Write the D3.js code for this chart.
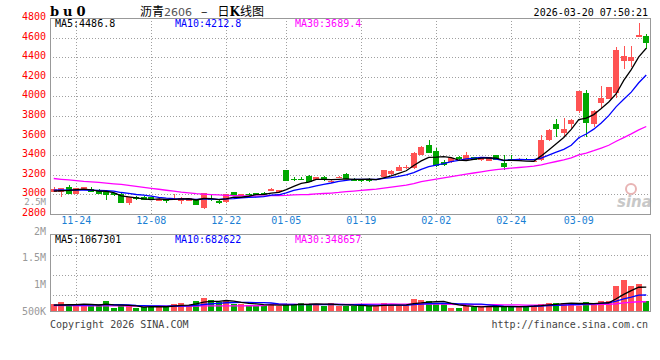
<!DOCTYPE html>
<html>
<head>
<meta charset="utf-8">
<script src="https://cdn.jsdelivr.net/npm/d3@7"></script>
<style>
  body { margin: 0; background: #fff; }
  svg { display: block; }
  text { font-family: "DejaVu Sans Mono", monospace; font-size: 10px; }
</style>
</head>
<body>
<svg id="chart" width="660" height="360"></svg>
<script>
const dates = [
  '11-19','11-20','11-21','11-24','11-25','11-26','11-27','11-28',
  '12-01','12-02','12-03','12-04','12-05','12-08','12-09','12-10','12-11','12-12',
  '12-15','12-16','12-17','12-18','12-19','12-22','12-23','12-24','12-25','12-26',
  '12-29','12-30','12-31',
  '01-05','01-06','01-07','01-08','01-09','01-12','01-13','01-14','01-15','01-16',
  '01-19','01-20','01-21','01-22','01-23','01-26','01-27','01-28','01-29','01-30',
  '02-02','02-03','02-04','02-05','02-06','02-09','02-10','02-11','02-12','02-13',
  '02-24','02-25','02-26','02-27',
  '03-02','03-03','03-04','03-05','03-06','03-09','03-10','03-11','03-12','03-13',
  '03-16','03-17','03-18','03-19','03-20'
];

const open = [
  3025,3019,3073,3005,3050,3053,3029,3019,3009,3005,
  2913,2971,2974,2971,2933,2943,2950,2930,2933,2945,
  2860,2955,2935,2923,3022,2981,3005,3012,3013,3032,
  3019,3247,3160,3160,3186,3148,3175,3135,3172,3209,
  3148,3148,3150,3150,3178,3206,3237,3272,3266,3400,
  3503,3441,3332,3326,3383,3349,3377,3345,3343,3400,
  3322,3358,3350,3358,3337,3345,3550,3718,3622,3721,
  3854,4035,3718,3936,3973,4038,4365,4365,4604,4621
];
const high = [
  3073,3065,3097,3065,3078,3073,3050,3021,3012,3007,
  2970,2976,2978,2974,2956,2945,3002,2966,2964,2950,
  3015,2990,2940,3005,3025,3005,3012,3015,3022,3058,
  3046,3252,3175,3180,3192,3178,3185,3150,3188,3212,
  3165,3160,3165,3160,3250,3244,3300,3300,3430,3490,
  3553,3469,3345,3378,3390,3431,3385,3370,3380,3403,
  3405,3400,3365,3370,3355,3605,3665,3766,3776,3772,
  4060,4065,3860,4106,4100,4509,4516,4516,4748,4638
];
const low = [
  3022,2974,3000,2998,3048,3017,3000,2940,2984,2911,
  2889,2944,2940,2948,2930,2913,2948,2902,2930,2885,
  2850,2930,2900,2910,2978,2978,2992,2988,3000,3030,
  3012,3130,3135,3140,3125,3145,3138,3118,3162,3150,
  3130,3120,3125,3140,3175,3200,3232,3262,3262,3398,
  3420,3281,3285,3320,3350,3345,3345,3338,3340,3345,
  3250,3340,3340,3345,3325,3340,3540,3588,3581,3674,
  3834,3588,3691,3878,3970,3981,4280,4304,4604,4482
];
const close = [
  3053,3063,3002,3063,3073,3019,3002,2991,2988,2913,
  2968,2947,2943,2950,2953,2933,2953,2964,2961,2890,
  3010,2948,2908,3002,2981,3002,3000,2991,3009,3053,
  3043,3138,3156,3156,3127,3175,3145,3138,3175,3152,
  3145,3145,3146,3153,3247,3240,3281,3276,3418,3485,
  3424,3291,3301,3373,3356,3400,3352,3365,3377,3349,
  3281,3354,3354,3354,3341,3554,3660,3670,3670,3759,
  4055,3731,3854,3981,4096,4475,4413,4406,4628,4543
];
const volume = [
  300000,400000,260000,310000,240000,270000,270000,450000,130000,210000,
  210000,150000,190000,210000,190000,210000,310000,360000,270000,450000,
  580000,490000,390000,450000,300000,300000,270000,270000,270000,270000,
  220000,310000,310000,360000,310000,310000,240000,340000,240000,240000,
  240000,210000,240000,240000,340000,270000,240000,270000,540000,480000,
  450000,340000,330000,120000,150000,240000,190000,240000,190000,190000,
  190000,190000,240000,190000,270000,310000,360000,360000,360000,360000,
  240000,400000,310000,450000,450000,1130000,1400000,1130000,1220000,460000
];

const ma5Head = [3030, 3035, 3038, 3045];
const ma10Head = [3042, 3043, 3042, 3041, 3042, 3040, 3038, 3035, 3030];
const ma30Head = [
  3160,3152,3145,3138,3130,3125,3120,3113,3106,3100,
  3090,3080,3070,3060,3050,3040,3030,3020,3012,3005,
  3000,2996,2992,2988,2985,2983,2981,2980,2979
];
const volMa5Head = [260000, 270000, 280000, 290000];
const volMa10Head = [260000,260000,265000,265000,270000,270000,275000,280000,280000];
const volMa30Head = [
  240000,240000,238000,236000,235000,234000,232000,230000,228000,226000,
  225000,224000,223000,222000,222000,221000,221000,222000,223000,224000,
  226000,228000,230000,232000,233000,234000,235000,236000,237000
];

const dateTicks = ['11-24','12-08','12-22','01-05','01-19','02-02','02-24','03-09'];
const priceTicks = [4800,4600,4400,4200,4000,3800,3600,3400,3200,3000,2800];
const volTickLabels = ['2M','1.5M','1M','500K'];
const volGridTicks = [500000, 1000000, 1500000];

const priceLegend = [
  { label: 'MA5:4486.8', key: 'ma5' },
  { label: 'MA10:4212.8', key: 'ma10' },
  { label: 'MA30:3689.4', key: 'ma30' }
];
const volLegend = [
  { label: 'MA5:1067301', key: 'ma5' },
  { label: 'MA10:682622', key: 'ma10' },
  { label: 'MA30:348657', key: 'ma30' }
];

const colors = {
  up: '#ff5353',
  down: '#00a800',
  ma5: '#000000',
  ma10: '#0000ff',
  ma30: '#ff00ff',
  grid: '#a0a0a0',
  frame: '#999999',
  priceLabel: '#ff0000',
  volLabel: '#999999',
  dateLabel: '#1a7fd4'
};

const plot = { left: 50, right: 650 };
const pricePanel = { top: 18.2, bottom: 213.7 };
const volPanel = { top: 234.3, bottom: 311 };

function movingAverage (values, n, head) {
  return values.map((v, i) => {
    if (i < n - 1) return head[i];
    return d3.mean(values.slice(i - n + 1, i + 1));
  });
}

const svg = d3.select('#chart');

const x = d3.scaleBand()
  .domain(dates)
  .range([plot.left, plot.right])
  .paddingInner(0.24)
  .paddingOuter(0.12);
const xc = d => x(d) + x.bandwidth() / 2;

const yPrice = d3.scaleLinear()
  .domain([2800, 4800])
  .range([pricePanel.bottom, pricePanel.top]);

const yVol = d3.scaleLinear()
  .domain([0, 3500000])
  .range([volPanel.bottom, 233]);

// the volume grid and its labels do not follow the bar scale on the original
const volGrid = d3.scaleLinear()
  .domain([0, 2000000])
  .range([315.7, volPanel.top]);
const volLabelY = d3.scalePoint()
  .domain(volTickLabels)
  .range([231, 311]);

const candles = dates.map((d, i) => ({
  date: d, open: open[i], high: high[i], low: low[i], close: close[i], volume: volume[i]
}));
const candleColor = d => d.close >= d.open ? colors.up : colors.down;

const priceMa = {
  ma5: movingAverage(close, 5, ma5Head),
  ma10: movingAverage(close, 10, ma10Head),
  ma30: movingAverage(close, 30, ma30Head)
};
const volMa = {
  ma5: movingAverage(volume, 5, volMa5Head),
  ma10: movingAverage(volume, 10, volMa10Head),
  ma30: movingAverage(volume, 30, volMa30Head)
};

// grids
const grid = svg.append('g')
  .attr('class', 'grid')
  .attr('stroke', colors.grid)
  .attr('stroke-dasharray', '1,2')
  .attr('shape-rendering', 'crispEdges');

grid.selectAll('.hgrid')
  .data(priceTicks.filter(v => v > 2800 && v < 4800))
  .enter()
  .append('line')
  .attr('x1', plot.left)
  .attr('x2', plot.right)
  .attr('y1', d => Math.round(yPrice(d)) + 0.5)
  .attr('y2', d => Math.round(yPrice(d)) + 0.5);

grid.selectAll('.vgrid')
  .data(dateTicks)
  .enter()
  .append('line')
  .attr('x1', d => Math.round(xc(d)) + 0.5)
  .attr('x2', d => Math.round(xc(d)) + 0.5)
  .attr('y1', pricePanel.top)
  .attr('y2', pricePanel.bottom);

grid.selectAll('.vhgrid')
  .data(volGridTicks)
  .enter()
  .append('line')
  .attr('x1', plot.left)
  .attr('x2', plot.right)
  .attr('y1', d => Math.round(volGrid(d)) + 0.5)
  .attr('y2', d => Math.round(volGrid(d)) + 0.5);

grid.selectAll('.vvgrid')
  .data(dateTicks)
  .enter()
  .append('line')
  .attr('x1', d => Math.round(xc(d)) + 0.5)
  .attr('x2', d => Math.round(xc(d)) + 0.5)
  .attr('y1', volPanel.top)
  .attr('y2', volPanel.bottom);

// sina watermark
const mark = svg.append('g').attr('class', 'watermark');
mark.append('circle')
  .attr('cx', 631).attr('cy', 189).attr('r', 5)
  .attr('fill', 'none').attr('stroke', '#e8b4b4').attr('stroke-width', 2);
mark.append('text')
  .attr('x', 617).attr('y', 207)
  .style('font-family', '"DejaVu Sans", sans-serif')
  .style('font-size', '15px')
  .style('font-weight', 'bold')
  .style('font-style', 'italic')
  .attr('fill', '#c8c8c8')
  .text('sina');

// candles
const candle = svg.append('g')
  .attr('class', 'candles')
  .attr('shape-rendering', 'crispEdges')
  .selectAll('g')
  .data(candles)
  .enter()
  .append('g');

candle.append('line')
  .attr('x1', d => Math.round(xc(d.date)) + 0.5)
  .attr('x2', d => Math.round(xc(d.date)) + 0.5)
  .attr('y1', d => yPrice(d.high))
  .attr('y2', d => yPrice(d.low))
  .attr('stroke', candleColor);

candle.append('rect')
  .attr('x', d => x(d.date))
  .attr('width', x.bandwidth())
  .attr('y', d => yPrice(Math.max(d.open, d.close)))
  .attr('height', d => Math.max(1.2, Math.abs(yPrice(d.open) - yPrice(d.close))))
  .attr('fill', candleColor);

// volume bars
svg.append('g')
  .attr('class', 'volume')
  .attr('shape-rendering', 'crispEdges')
  .selectAll('rect')
  .data(candles)
  .enter()
  .append('rect')
  .attr('x', d => x(d.date))
  .attr('width', x.bandwidth())
  .attr('y', d => yVol(d.volume))
  .attr('height', d => yVol(0) - yVol(d.volume))
  .attr('fill', candleColor);

// moving average lines
function drawMa (series, yScale, cls) {
  const line = d3.line()
    .x((d, i) => xc(dates[i]))
    .y(d => yScale(d));

  svg.append('g')
    .attr('class', cls)
    .selectAll('path')
    .data(['ma30', 'ma10', 'ma5'])
    .enter()
    .append('path')
    .attr('d', k => line(series[k]))
    .attr('fill', 'none')
    .attr('stroke', k => colors[k])
    .attr('stroke-width', 1.3);
}
drawMa(priceMa, yPrice, 'price-ma');
drawMa(volMa, yVol, 'volume-ma');

// frames
[pricePanel, volPanel].forEach(p => {
  svg.append('rect')
    .attr('x', plot.left + 0.5)
    .attr('y', Math.round(p.top) + 0.5)
    .attr('width', plot.right - plot.left)
    .attr('height', Math.round(p.bottom) - Math.round(p.top))
    .attr('fill', 'none')
    .attr('stroke', colors.frame)
    .attr('shape-rendering', 'crispEdges');
});

// axis labels
svg.append('g')
  .attr('class', 'price-axis')
  .selectAll('text')
  .data(priceTicks)
  .enter()
  .append('text')
  .attr('x', 46)
  .attr('y', d => yPrice(d) + 2)
  .attr('text-anchor', 'end')
  .attr('fill', colors.priceLabel)
  .text(d => d);

svg.append('g')
  .attr('class', 'volume-axis')
  .selectAll('text')
  .data(volTickLabels)
  .enter()
  .append('text')
  .attr('x', 46)
  .attr('y', d => volLabelY(d) + 3.5)
  .attr('text-anchor', 'end')
  .attr('fill', colors.volLabel)
  .text(d => d);

// stray volume label squeezed between 3000 and 2800
svg.append('text')
  .attr('x', 46)
  .attr('y', yPrice(2900) + 1)
  .attr('text-anchor', 'end')
  .attr('fill', colors.volLabel)
  .style('font-size', '9px')
  .text('2.5M');

svg.append('g')
  .attr('class', 'date-axis')
  .selectAll('text')
  .data(dateTicks)
  .enter()
  .append('text')
  .attr('x', d => xc(d))
  .attr('y', 224)
  .attr('text-anchor', 'middle')
  .attr('fill', colors.dateLabel)
  .text(d => d);

// legends
function drawLegend (items, y) {
  svg.append('g')
    .selectAll('text')
    .data(items)
    .enter()
    .append('text')
    .attr('x', (d, i) => 55 + i * 120)
    .attr('y', y)
    .attr('fill', d => colors[d.key])
    .text(d => d.label);
}
drawLegend(priceLegend, 27);
drawLegend(volLegend, 242.5);

// header
svg.append('text')
  .attr('x', 50)
  .attr('y', 16)
  .style('font-family', '"DejaVu Serif", serif')
  .style('font-size', '13px')
  .style('font-weight', 'bold')
  .style('letter-spacing', '4px')
  .text('bu0');

const title = svg.append('text')
  .attr('x', 140)
  .attr('y', 16)
  .style('font-family', '"Noto Sans CJK SC", sans-serif')
  .style('font-size', '12px');
title.append('tspan').text('沥青');
title.append('tspan')
  .style('font-family', '"DejaVu Sans", sans-serif')
  .style('font-size', '11px')
  .attr('fill', '#555')
  .text('2606');
title.append('tspan').attr('dx', 9).text('–');
title.append('tspan').attr('dx', 10).text('日');
title.append('tspan')
  .style('font-family', '"DejaVu Serif", serif')
  .style('font-weight', 'bold')
  .text('K');
title.append('tspan').text('线图');

svg.append('text')
  .attr('x', 648)
  .attr('y', 15.5)
  .attr('text-anchor', 'end')
  .text('2026-03-20 07:50:21');

// footer
svg.append('text')
  .attr('x', 50)
  .attr('y', 328)
  .attr('fill', '#444')
  .text('Copyright 2026 SINA.COM');

svg.append('text')
  .attr('x', 648)
  .attr('y', 328)
  .attr('text-anchor', 'end')
  .attr('fill', '#444')
  .text('http://finance.sina.com.cn');
</script>
</body>
</html>
